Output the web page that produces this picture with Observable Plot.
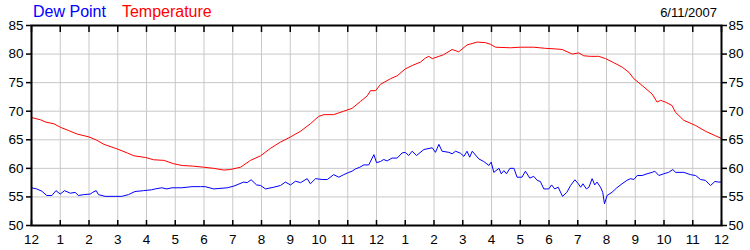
<!DOCTYPE html>
<html>
<head>
<meta charset="utf-8">
<script src="https://cdn.jsdelivr.net/npm/d3@7"></script>
<script src="https://cdn.jsdelivr.net/npm/@observablehq/plot@0.6"></script>
<style>
  body { margin: 0; background: #fff; }
  #wrap { position: relative; width: 750px; height: 250px; font-family: "Liberation Sans", Arial, sans-serif; background: #fff; }
  #title { position: absolute; left: 33px; top: 4px; font-size: 16px; line-height: 16px; white-space: nowrap; }
  #date { position: absolute; right: 33px; top: 6px; font-size: 13px; line-height: 13px; color: #000; white-space: nowrap; }
  #chart svg { display: block; }
</style>
</head>
<body>
<div id="wrap">
  <div id="chart"></div>
  <div id="title"><span style="color:#0000ff">Dew Point</span><span style="color:#ff0000;margin-left:16px">Temperature</span></div>
  <div id="date">6/11/2007</div>
</div>
<script>
// Hour ticks (0 = midnight, 24 = next midnight) and their labels
const hourTicks = [0,1,2,3,4,5,6,7,8,9,10,11,12,13,14,15,16,17,18,19,20,21,22,23,24];
const hourLabels = ["12","1","2","3","4","5","6","7","8","9","10","11","12","1","2","3","4","5","6","7","8","9","10","11","12"];
const yTicks = [50,55,60,65,70,75,80,85];

// Temperature (°F) readings
const tempTime = [0.0,0.31,0.49,0.78,1.0,1.3,1.59,2.0,2.28,2.52,2.98,3.33,3.56,3.97,4.25,4.6,4.95,5.24,5.59,5.99,6.34,6.69,6.92,7.27,7.62,7.97,8.31,8.66,9.01,9.36,9.7,9.99,10.17,10.51,10.86,11.15,11.44,11.68,11.79,11.97,12.14,12.49,12.72,13.0,13.24,13.53,13.7,13.82,13.94,14.17,14.34,14.63,14.86,15.15,15.5,15.79,15.97,16.14,16.66,17.0,17.47,17.88,18.23,18.46,18.81,19.04,19.21,19.44,19.73,19.97,20.25,20.55,20.78,20.95,21.24,21.59,21.76,21.88,22.05,22.28,22.4,22.69,23.1,23.44,23.79,23.97];
const tempF = [68.9,68.5,68.1,67.8,67.2,66.6,66.0,65.5,64.9,64.2,63.4,62.7,62.2,61.9,61.5,61.4,60.8,60.5,60.4,60.2,60.0,59.7,59.8,60.2,61.4,62.2,63.5,64.6,65.5,66.5,67.8,69.1,69.4,69.4,70.0,70.5,71.7,72.7,73.6,73.6,74.7,75.7,76.2,77.4,78.0,78.6,79.3,79.6,79.2,79.6,79.9,80.8,80.4,81.6,82.1,82.0,81.7,81.2,81.1,81.2,81.2,81.0,80.9,80.8,80.0,80.2,79.7,79.6,79.6,79.2,78.5,77.7,76.8,75.7,74.5,73.0,71.6,71.9,71.6,71.0,69.8,68.4,67.5,66.5,65.7,65.3];

// Dew point (°F) readings
const dewTime = [0.0,0.18,0.36,0.53,0.71,0.85,1.0,1.15,1.35,1.52,1.63,1.81,2.04,2.13,2.25,2.33,2.56,2.91,3.14,3.37,3.6,3.9,4.18,4.3,4.53,4.71,4.88,5.23,5.58,5.88,6.04,6.34,6.81,7.04,7.38,7.5,7.64,7.83,7.97,8.14,8.43,8.66,8.83,9.01,9.18,9.36,9.59,9.7,9.88,10.11,10.29,10.51,10.69,10.86,11.04,11.15,11.27,11.42,11.56,11.73,11.91,12.0,12.14,12.25,12.37,12.54,12.72,12.89,13.0,13.12,13.24,13.39,13.65,13.94,14.05,14.17,14.28,14.52,14.63,14.75,14.92,15.04,15.15,15.24,15.33,15.56,15.73,15.91,15.99,16.08,16.26,16.34,16.43,16.52,16.64,16.78,16.89,17.06,17.18,17.33,17.47,17.59,17.7,17.82,17.99,18.09,18.2,18.32,18.47,18.62,18.75,18.9,19.02,19.1,19.18,19.3,19.39,19.5,19.59,19.67,19.79,19.87,19.93,20.02,20.19,20.36,20.54,20.71,20.84,20.95,21.07,21.24,21.41,21.59,21.68,21.82,21.99,22.16,22.31,22.4,22.69,22.92,23.1,23.27,23.44,23.62,23.77,23.91,23.97];
const dewF = [56.6,56.4,56.0,55.25,55.25,56.1,55.5,56.1,55.65,55.8,55.25,55.4,55.5,55.8,56.1,55.4,55.1,55.1,55.1,55.4,55.95,56.1,56.25,56.4,56.6,56.4,56.6,56.6,56.8,56.8,56.8,56.4,56.6,56.9,57.6,57.5,58.0,57.1,57.0,56.4,56.7,57.0,57.6,57.1,57.75,57.5,58.2,57.3,58.2,58.05,58.05,58.9,58.45,58.9,59.3,59.5,59.9,60.2,60.6,60.6,62.4,61.0,61.2,61.55,61.3,61.8,61.8,62.7,62.8,62.25,63.0,62.25,63.3,63.6,62.8,64.2,63.0,62.8,62.55,63.0,62.65,62.1,63.0,61.95,63.0,61.65,61.2,60.5,61.1,59.3,60.0,59.05,59.6,59.05,60.0,60.0,58.45,58.45,59.5,58.3,58.6,57.9,57.7,56.4,56.4,57.1,56.4,56.7,55.1,55.8,57.0,58.0,57.3,56.7,57.3,56.4,56.7,58.2,57.1,57.6,56.7,55.8,53.8,55.25,55.8,56.6,57.3,57.9,58.2,58.05,58.75,58.75,59.05,59.3,59.5,58.75,59.05,59.3,59.8,59.3,59.3,58.9,58.75,58.05,57.9,57.0,57.7,57.6,57.6];

const fmtHour = d => hourLabels[hourTicks.indexOf(d)];

const chart = Plot.plot({
  width: 750,
  height: 250,
  marginLeft: 31,
  marginRight: 29,
  marginTop: 25,
  marginBottom: 25,
  style: { fontFamily: "'Liberation Sans', Arial, sans-serif", fontSize: "13.5px", color: "#000", background: "#fff", overflow: "visible" },
  x: { domain: [0, 24] },
  y: { domain: [50, 85] },
  marks: [
    Plot.gridX(hourTicks, { stroke: "#c8c8c8", strokeOpacity: 1 }),
    Plot.gridY(yTicks, { stroke: "#c8c8c8", strokeOpacity: 1 }),
    Plot.line(tempF, { x: tempTime, y: tempF, stroke: "#ff0000", strokeWidth: 1 }),
    Plot.line(dewF, { x: dewTime, y: dewF, stroke: "#0000ff", strokeWidth: 1 }),
    Plot.frame({ stroke: "#000", strokeWidth: 2 }),
    Plot.axisX(hourTicks, { anchor: "bottom", tickSize: 0, tickPadding: 9, tickFormat: fmtHour, label: null, fontSize: 13.5 }),
    Plot.axisX(hourTicks, { anchor: "bottom", tickSize: -5, tickFormat: () => "", label: null, strokeWidth: 1.5 }),
    Plot.axisX(hourTicks, { anchor: "top", tickSize: -6, tickFormat: () => "", label: null, strokeWidth: 1.5 }),
    Plot.axisY(yTicks, { anchor: "left", tickSize: 5, tickPadding: 3, label: null, fontSize: 13.5, strokeWidth: 1.5 }),
    Plot.axisY(yTicks, { anchor: "right", tickSize: 5, tickPadding: 2, label: null, fontSize: 13.5, strokeWidth: 1.5 })
  ]
});
document.getElementById("chart").appendChild(chart);
</script>
</body>
</html>
